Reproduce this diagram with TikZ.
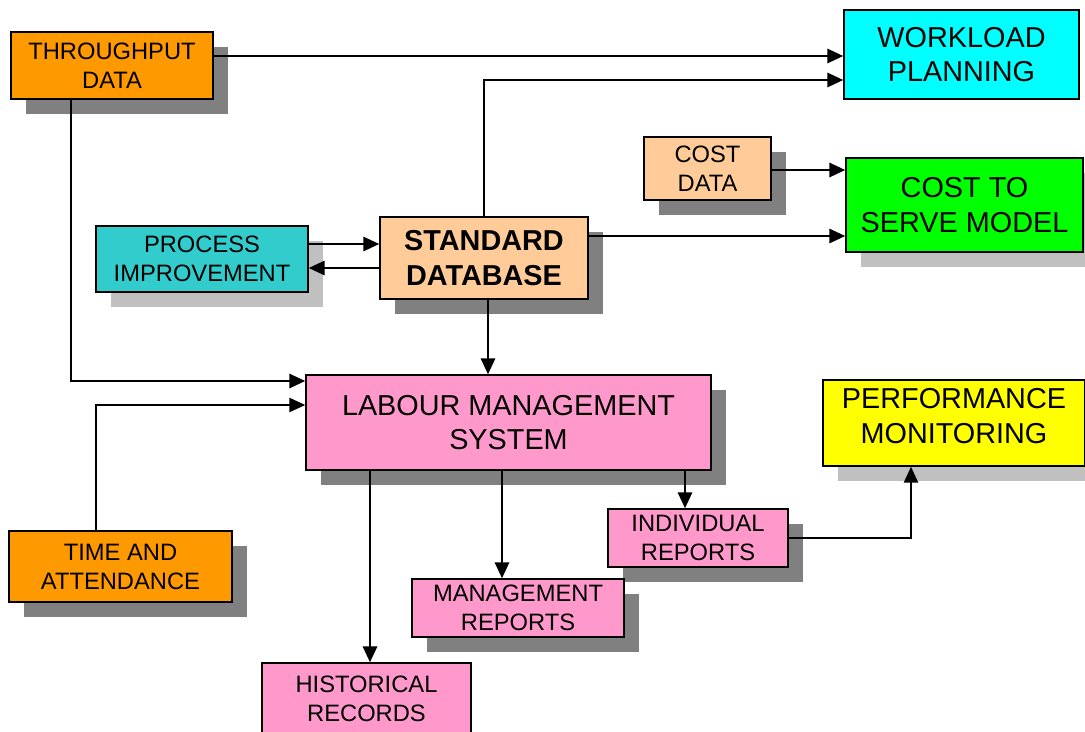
\documentclass[tikz,border=0pt]{standalone}
\usepackage{fontspec}
\setmainfont{Liberation Sans}
\usetikzlibrary{arrows.meta,shadows}

\definecolor{orangebox}{HTML}{FF9900}
\definecolor{cyanbox}{HTML}{00FFFF}
\definecolor{peachbox}{HTML}{FFCC99}
\definecolor{greenbox}{HTML}{00FF00}
\definecolor{tealbox}{HTML}{33CCCC}
\definecolor{pinkbox}{HTML}{FF99CC}
\definecolor{yellowbox}{HTML}{FFFF00}
\definecolor{darkshade}{HTML}{808080}
\definecolor{lightshade}{HTML}{C0C0C0}

\begin{document}
\begin{tikzpicture}[x=0.02cm, y=-0.02cm,
  box/.style={draw, line width=0.8pt, align=center, inner sep=0pt},
  size/.style 2 args={minimum width=#1*0.02cm, minimum height=#2*0.02cm},
  small/.style={font=\fontsize{13.5}{16.5}\selectfont},
  large/.style={font=\fontsize{16.4}{19.5}\selectfont},
  darkshadow/.style={general shadow={fill=darkshade, shadow xshift=0.3cm, shadow yshift=-0.3cm}},
  lightshadow/.style={general shadow={fill=lightshade, shadow xshift=0.3cm, shadow yshift=-0.3cm}},
  link/.style={line width=1.4pt, -{Triangle[length=9pt,width=8pt]}},
  thinlink/.style={line width=1pt, -{Triangle[length=9pt,width=8pt]}}]
  \useasboundingbox (0,0) rectangle (1085,731);

  % boxes
  \node[box, small, darkshadow, fill=orangebox, size={202}{67}] (thru) at (112,65.5) {THROUGHPUT\\DATA};
  \node[box, large, fill=cyanbox, size={235}{89}] (workload) at (961.5,54.5) {WORKLOAD\\PLANNING};
  \node[box, small, darkshadow, fill=peachbox, size={127}{63}] (costdata) at (707.5,168.5) {COST\\DATA};
  \node[box, large, lightshadow, fill=greenbox, size={237}{94}] (costserve) at (964.5,205) {COST TO\\SERVE MODEL};
  \node[box, small, lightshadow, fill=tealbox, size={212}{66}] (process) at (202,259) {PROCESS\\IMPROVEMENT};
  \node[box, large, darkshadow, fill=peachbox, size={208}{82}, font=\fontsize{16.4}{19.5}\selectfont\bfseries] (stddb) at (484,258) {STANDARD\\DATABASE};
  \node[box, large, darkshadow, fill=pinkbox, size={405}{95}] (labour) at (508.5,422.5) {LABOUR MANAGEMENT\\SYSTEM};
  \node[box, large, lightshadow, fill=yellowbox, size={262}{86}, text depth=8pt] (perf) at (954,423) {PERFORMANCE\\MONITORING};
  \node[box, small, darkshadow, fill=orangebox, size={223}{71}] (time) at (120.5,566.5) {TIME AND\\ATTENDANCE};
  \node[box, small, darkshadow, fill=pinkbox, size={180}{58}] (indiv) at (698,538) {INDIVIDUAL\\REPORTS};
  \node[box, small, darkshadow, fill=pinkbox, size={212}{58}] (mgmt) at (518,608) {MANAGEMENT\\REPORTS};
  \node[box, small, fill=pinkbox, size={209}{72}] (hist) at (366.5,699) {HISTORICAL\\RECORDS};

  % connectors
  \draw[link] (thru.east |- 0,56) -- (workload.west |- 0,56);
  \draw[link] (stddb.north) |- (workload.west |- 0,80);
  \draw[link] (costdata.east |- 0,170) -- (costserve.west |- 0,170);
  \draw[link] (stddb.east |- 0,236) -- (costserve.west |- 0,236);
  \draw[link] (process.east |- 0,244) -- (stddb.west |- 0,244);
  \draw[link] (stddb.west |- 0,268) -- (process.east |- 0,268);
  \draw[link] (stddb.south -| 488,0) -- (labour.north -| 488,0);
  \draw[link] (thru.south -| 71,0) |- (labour.west |- 0,381);
  \draw[thinlink] (time.north -| 96,0) |- (labour.west |- 0,405);
  \draw[link] (labour.south -| 370,0) -- (hist.north -| 370,0);
  \draw[link] (labour.south -| 502,0) -- (mgmt.north -| 502,0);
  \draw[link] (labour.south -| 685,0) -- (indiv.north -| 685,0);
  \draw[thinlink] (indiv.east) -| (perf.south -| 911,0);
\end{tikzpicture}
\end{document}
